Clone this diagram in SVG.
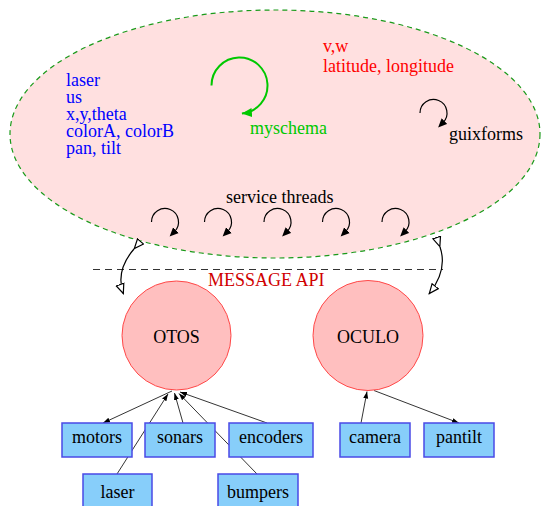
<svg xmlns="http://www.w3.org/2000/svg" width="542" height="506" viewBox="0 0 542 506">
<style>
text{font-family:"Liberation Serif","Times New Roman",serif;font-size:18px}
.blue{fill:#0000ff}
.red{fill:#ff0000}
.green{fill:#00c800}
.box{fill:#87cefa;stroke:#4a4ae6;stroke-width:1.5}
.proc{fill:#ffbfbf;stroke:#ff4848;stroke-width:1}
.conn{fill:none;stroke:#000;stroke-width:0.8}
.loop{fill:none;stroke:#000;stroke-width:1.2}
.bi{fill:none;stroke:#000;stroke-width:1.2}
.mid{text-anchor:middle}
</style>
<defs>
<marker id="aSmall" markerUnits="userSpaceOnUse" markerWidth="10" markerHeight="8" refX="7" refY="3" orient="auto">
<path d="M0,0.5 L7,3 L0,5.5 Z" fill="#000"/>
</marker>
<marker id="aLoop" markerUnits="userSpaceOnUse" markerWidth="12" markerHeight="10" refX="2" refY="4.5" orient="auto">
<path d="M0,0.5 L9,4.5 L0,8.5 Z" fill="#000"/>
</marker>
<marker id="aGreen" markerUnits="userSpaceOnUse" markerWidth="14" markerHeight="12" refX="10" refY="4.5" orient="auto">
<path d="M0,0 L10,4.5 L0,9 Z" fill="#00c800"/>
</marker>
<marker id="aOpen" markerUnits="userSpaceOnUse" markerWidth="14" markerHeight="12" refX="10.5" refY="5" orient="auto">
<path d="M0.5,1 L10,5 L0.5,9 Z" fill="#fff" stroke="#000" stroke-width="1.2"/>
</marker>
</defs>

<g id="schema">
<ellipse cx="275" cy="134" rx="265" ry="124" fill="#ffe0e0" stroke="#1a9a1a" stroke-width="1.2" stroke-dasharray="5,4"/>
<text class="blue" x="66" y="86">laser</text>
<text class="blue" x="66" y="102.5">us</text>
<text class="blue" x="66" y="120">x,y,theta</text>
<text class="blue" x="66" y="137">colorA, colorB</text>
<text class="blue" x="66" y="154">pan, tilt</text>
<text class="red" x="323" y="52">v,w</text>
<text class="red" x="323" y="72">latitude, longitude</text>
<path d="M211.5,85.5 A28,28 0 1 1 241.9,113.4" fill="none" stroke="#00c800" stroke-width="2" marker-end="url(#aGreen)"/>
<text class="green" x="250" y="133.5">myschema</text>
<path class="loop" d="M420,113 A13.5,13.5 0 1 1 443.05,122.55" marker-end="url(#aLoop)"/>
<text x="449" y="140">guixforms</text>
<text x="226" y="203">service threads</text>
<path class="loop" d="M151.5,222 A13.5,13.5 0 1 1 174.55,231.55" marker-end="url(#aLoop)"/>
<path class="loop" d="M204.5,222 A13.5,13.5 0 1 1 227.55,231.55" marker-end="url(#aLoop)"/>
<path class="loop" d="M264,222 A13.5,13.5 0 1 1 287.05,231.55" marker-end="url(#aLoop)"/>
<path class="loop" d="M322.5,222 A13.5,13.5 0 1 1 345.55,231.55" marker-end="url(#aLoop)"/>
<path class="loop" d="M382,222 A13.5,13.5 0 1 1 405.05,231.55" marker-end="url(#aLoop)"/>
</g>

<g id="message-api">
<line x1="93" y1="269.5" x2="443" y2="269.5" stroke="#333" stroke-width="1.2" stroke-dasharray="7,5"/>
<text x="208" y="286" fill="#d00000">MESSAGE API</text>
</g>

<g id="connectors">
<path class="bi" d="M134,249 Q115,271 123.5,294" marker-start="url(#aOpen)" marker-end="url(#aOpen)"/>
<path class="bi" d="M440,247 Q448,270 429,294" marker-start="url(#aOpen)" marker-end="url(#aOpen)"/>
<line class="conn" x1="172" y1="391" x2="103" y2="423" marker-end="url(#aSmall)"/>
<line class="conn" x1="117" y1="474" x2="168" y2="394" marker-end="url(#aSmall)"/>
<line class="conn" x1="183" y1="423" x2="174.5" y2="393" marker-end="url(#aSmall)"/>
<line class="conn" x1="257" y1="474" x2="179" y2="393.5" marker-end="url(#aSmall)"/>
<line class="conn" x1="267" y1="423" x2="180" y2="392" marker-end="url(#aSmall)"/>
<line class="conn" x1="361" y1="423" x2="367" y2="391.5" marker-end="url(#aSmall)"/>
<line class="conn" x1="374" y1="390.5" x2="459" y2="423" marker-end="url(#aSmall)"/>
</g>

<g id="otos">
<circle class="proc" cx="176.5" cy="335.5" r="54.5"/>
<text class="mid" x="176.5" y="342.5">OTOS</text>
</g>
<g id="oculo">
<circle class="proc" cx="368" cy="335.5" r="55"/>
<text class="mid" x="368" y="342.5">OCULO</text>
</g>

<g id="motors"><rect class="box" x="62" y="423" width="70" height="34"/><text class="mid" x="97" y="443">motors</text></g>
<g id="sonars"><rect class="box" x="145" y="423" width="70" height="34"/><text class="mid" x="180" y="443">sonars</text></g>
<g id="encoders"><rect class="box" x="229" y="423" width="84" height="34"/><text class="mid" x="271" y="443">encoders</text></g>
<g id="camera"><rect class="box" x="340" y="423" width="70" height="34"/><text class="mid" x="375" y="443">camera</text></g>
<g id="pantilt"><rect class="box" x="424" y="423" width="70" height="34"/><text class="mid" x="459" y="443">pantilt</text></g>
<g id="laser"><rect class="box" x="83" y="474" width="69" height="34"/><text class="mid" x="117.5" y="498">laser</text></g>
<g id="bumpers"><rect class="box" x="218" y="474" width="80" height="34"/><text class="mid" x="258" y="498">bumpers</text></g>
</svg>
